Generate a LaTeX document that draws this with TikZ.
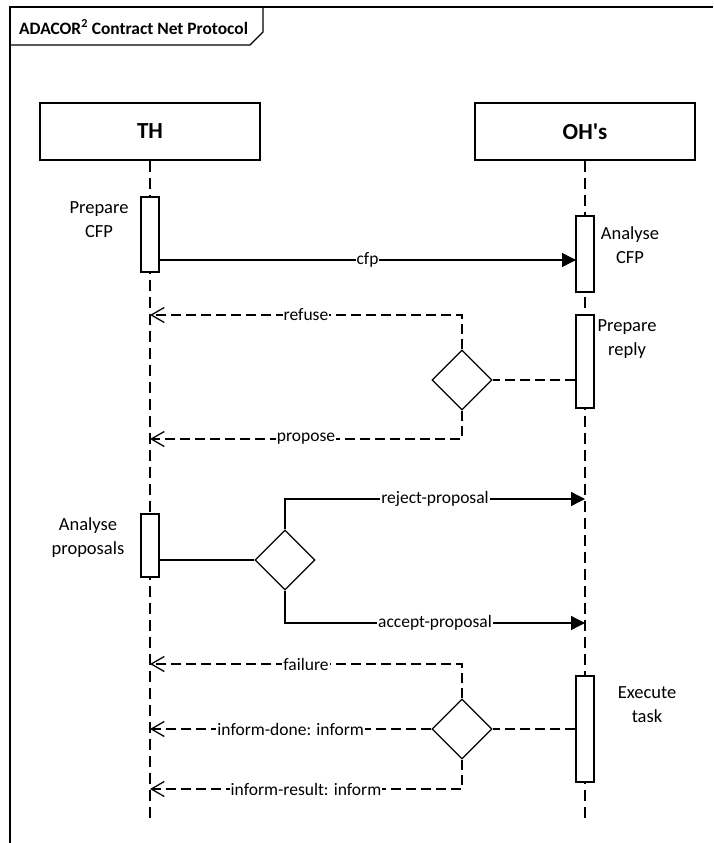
\documentclass[tikz,border=0pt]{standalone}
\usepackage{fontspec}
\setmainfont{Carlito}
\usetikzlibrary{arrows.meta,shapes.geometric}
\begin{document}
\begin{tikzpicture}[x=1pt,y=-1pt,
  every node/.style={font=\fontsize{17.5}{24}\selectfont},
  frameline/.style={line width=1.3pt},
  headbox/.style={draw, line width=1.3pt, minimum width=220pt, minimum height=57pt, inner sep=0pt, font=\fontsize{23}{27}\selectfont\bfseries},
  actbox/.style={draw, fill=white, line width=1.3pt, minimum width=18pt, inner sep=0pt},
  lifeline/.style={line width=1.3pt, dash pattern=on 11pt off 6pt},
  solidmsg/.style={line width=1.3pt},
  dashmsg/.style={line width=1.3pt, dash pattern=on 10pt off 5pt},
  decision/.style={diamond, draw, fill=white, line width=1.3pt, minimum width=60pt, minimum height=60pt, inner sep=0pt, aspect=1},
  msglabel/.style={fill=white, inner sep=1pt},
  acttext/.style={align=center, inner sep=0pt, font=\fontsize{18.5}{24}\selectfont},
  filledtip/.style={-{Triangle[length=14pt,width=14pt]}},
  opentip/.style={-{Straight Barb[length=13pt,width=15pt,line width=1.3pt]}}
]
\useasboundingbox (0,0) rectangle (713,843);

% frame
\draw[frameline] (10,843) -- (10,7) -- (713,7);
\draw[frameline] (10,45) -- (250,45) -- (263,32) -- (263,7);
\node[anchor=west, inner sep=0pt, font=\fontsize{17.4}{20}\selectfont\bfseries] (title) at (19,27) {ADACOR\textsuperscript{2} Contract Net Protocol};

% lifeline heads
\node[headbox] (TH) at (150,131.5) {TH};
\node[headbox] (OH) at (585,131.5) {OH\textquotesingle s};
\coordinate (THend) at (150,822);
\coordinate (OHend) at (585,822);
\draw[lifeline] (TH.south) -- (THend);
\draw[lifeline] (OH.south) -- (OHend);

% activations
\node[actbox, minimum height=75pt] (a1) at (150,234.5) {};
\node[actbox, minimum height=76pt] (a2) at (585,254) {};
\node[actbox, minimum height=93pt] (a3) at (585,361.5) {};
\node[actbox, minimum height=63pt] (a4) at (150,545.5) {};
\node[actbox, minimum height=106pt] (a5) at (585,729) {};

\node[acttext] (t1) at (99,220) {Prepare\\CFP};
\node[acttext] (t2) at (630,245) {Analyse\\CFP};
\node[acttext] (t3) at (627,339) {Prepare\\reply};
\node[acttext] (t4) at (88,538) {Analyse\\proposals};
\node[acttext] (t5) at (647,705) {Execute\\task};

% decisions
\node[decision] (D1) at (462,380) {};
\node[decision] (D2) at (285,560) {};
\node[decision] (D3) at (462,729) {};

% message end coordinates
\coordinate (cfpA) at (159,260);
\coordinate (cfpB) at (576,260);
\coordinate (thRefuse) at (150,315);
\coordinate (thPropose) at (150,439);
\coordinate (ohReject) at (585,499);
\coordinate (ohAccept) at (585,623);
\coordinate (thFailure) at (150,664);
\coordinate (thDone) at (150,729);
\coordinate (thResult) at (150,789);

% cfp
\draw[solidmsg, filledtip] (cfpA) -- (cfpB) node[midway, msglabel] {cfp};

% replies
\draw[dashmsg] (a3.west |- D1.east) -- (D1.east);
\draw[dashmsg, opentip] (D1.north) |- (thRefuse) node[pos=0.75, msglabel] {refuse};
\draw[dashmsg, opentip] (D1.south) |- (thPropose) node[pos=0.75, msglabel] {propose};

% proposals
\draw[solidmsg] (a4.east |- D2.west) -- (D2.west);
\draw[solidmsg, filledtip] (D2.north) |- (ohReject) node[pos=0.75, msglabel] {reject-proposal};
\draw[solidmsg, filledtip] (D2.south) |- (ohAccept) node[pos=0.75, msglabel] {accept-proposal};

% results
\draw[dashmsg] (a5.west |- D3.east) -- (D3.east);
\draw[dashmsg, opentip] (D3.north) |- (thFailure) node[pos=0.75, msglabel] {failure};
\draw[dashmsg, opentip] (D3.west) -- (thDone) node[midway, msglabel] {inform-done: inform};
\draw[dashmsg, opentip] (D3.south) |- (thResult) node[pos=0.75, msglabel] {inform-result: inform};
\end{tikzpicture}
\end{document}
